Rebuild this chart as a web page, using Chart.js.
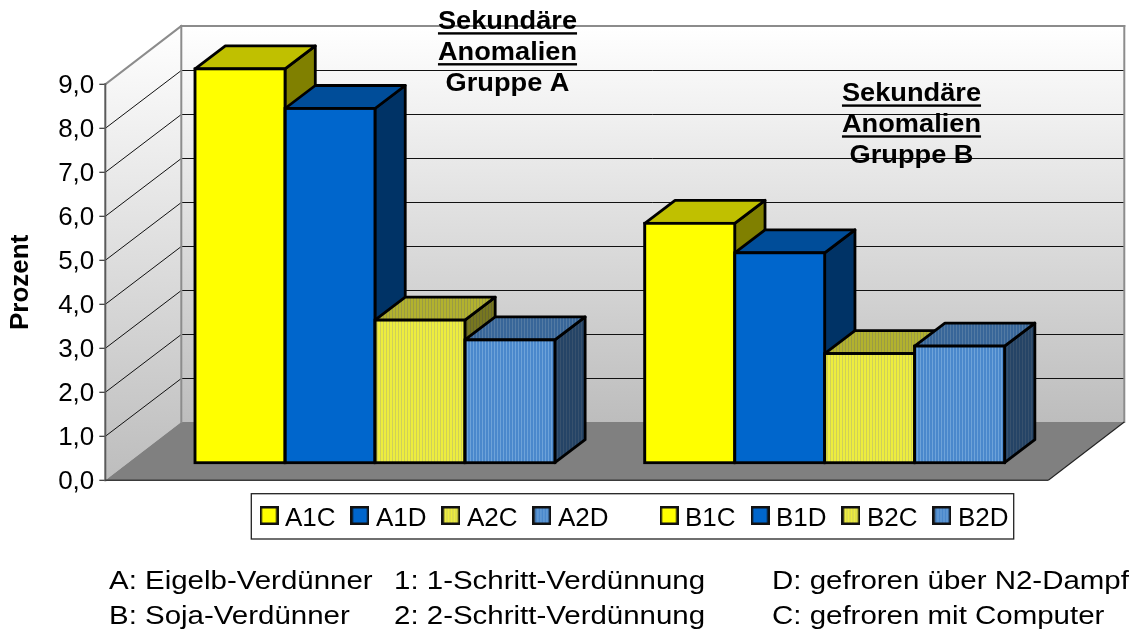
<!DOCTYPE html>
<html>
<head>
<meta charset="utf-8">
<style>
html,body{margin:0;padding:0;background:#fff;overflow:hidden;width:1133px;height:633px}
#c{display:block}
</style>
<script src="https://cdn.jsdelivr.net/npm/chart.js@4"></script>
</head>
<body>
<canvas id="c" width="1133" height="633"></canvas>
<script>
// ---- data ----
const categories = ['Sekundäre Anomalien'];
const seriesNames = ['A1C','A1D','A2C','A2D','','B1C','B1D','B2C','B2D'];
const seriesValues = [8.95,8.05,3.24,2.79,null,5.44,4.77,2.48,2.65];
const seriesKinds = ['yellow','blue','hatchYellow','hatchBlue','none','yellow','blue','hatchYellow','hatchBlue'];
const groupTitleA = ['Sekundäre','Anomalien','Gruppe A'];
const groupTitleB = ['Sekundäre','Anomalien','Gruppe B'];
const noteRow1 = ['A: Eigelb-Verdünner','1: 1-Schritt-Verdünnung','D: gefroren über N2-Dampf'];
const noteRow2 = ['B: Soja-Verdünner','2: 2-Schritt-Verdünnung','C: gefroren mit Computer'];
const axisTitle = 'Prozent';

// ---- styling / geometry ----
const NOTE_SX = 1.133, TITLE_SX = 1.088;   // notes and group titles are stretched horizontally
const FONT = '"Liberation Sans", Arial, sans-serif';
const WALL_DX = 76, WALL_DY = -58.3;
const BAR_DX = 30.3, BAR_DY = -23;
const PLANE_DX = 23;
const STROKE = 1.4;

function stripes(a, b) {
  const p = document.createElement('canvas');
  p.width = 3; p.height = 3;
  const g = p.getContext('2d');
  g.fillStyle = a; g.fillRect(0,0,3,3);
  g.fillStyle = b; g.fillRect(2,0,1,3);
  return g.createPattern(p,'repeat');
}
const palette = {
  yellow:      {front:'#ffff00', top:'#c0c000', side:'#808000'},
  blue:        {front:'#0066cc', top:'#004d99', side:'#003366'},
  hatchYellow: {front:stripes('#eded3e','#cfcf5a'), top:stripes('#b2b22e','#9b9b44'), side:stripes('#77771f','#68682d')},
  hatchBlue:   {front:stripes('#4a88cc','#6ea3d9'), top:stripes('#386699','#537aa3'), side:stripes('#254466','#37516d')},
  none:        {front:'transparent', top:'transparent', side:'transparent'}
};

function swatch(kind){
  const c = document.createElement('canvas');
  c.width = 19; c.height = 25;
  const g = c.getContext('2d');
  g.fillStyle = '#111'; g.fillRect(0,0,19,19);
  g.fillStyle = palette[kind].front; g.fillRect(2.5,2.5,14,14);
  return c;
}

function poly(ctx, pts, fill, stroke, lw){
  ctx.beginPath();
  pts.forEach((p,i)=> i ? ctx.lineTo(p[0],p[1]) : ctx.moveTo(p[0],p[1]));
  ctx.closePath();
  if (fill){ ctx.fillStyle = fill; ctx.fill(); }
  if (stroke){ ctx.strokeStyle = stroke; ctx.lineWidth = lw; ctx.lineJoin='round'; ctx.stroke(); }
}
function line(ctx,x1,y1,x2,y2,c,w){
  ctx.beginPath(); ctx.moveTo(x1,y1); ctx.lineTo(x2,y2);
  ctx.strokeStyle=c; ctx.lineWidth=w; ctx.stroke();
}
function barBox(chart,i){
  const p = chart.getDatasetMeta(i).data[0].getProps(['x','y','base','width'],true);
  return {l:p.x-p.width/2, r:p.x+p.width/2, t:p.y, b:p.base};
}

const scene = {
  id:'scene',
  beforeUpdate(chart){
    chart.legend.isHorizontal = () => true;
  },
  afterLayout(chart){
    const l = chart.legend;
    l.left = 244.6; l.right = 1133; l.top = 484.1; l.bottom = 560;
  },
  beforeDraw(chart){
    const ctx = chart.ctx, y = chart.scales.y;
    const x0 = chart.chartArea.left - PLANE_DX, x1 = chart.chartArea.right - PLANE_DX;
    const b = y.getPixelForValue(y.min), t = y.getPixelForValue(y.max);
    ctx.save();
    ctx.fillStyle='#fff'; ctx.fillRect(0,0,chart.width,chart.height);
    // back wall
    let g = ctx.createLinearGradient(0,t+WALL_DY,0,b+WALL_DY);
    g.addColorStop(0,'#ffffff'); g.addColorStop(1,'#bdbdbd');
    poly(ctx,[[x0+WALL_DX,t+WALL_DY],[x1+WALL_DX,t+WALL_DY],[x1+WALL_DX,b+WALL_DY],[x0+WALL_DX,b+WALL_DY]],g);
    // side wall
    g = ctx.createLinearGradient(0,t+WALL_DY,0,b);
    g.addColorStop(0,'#ffffff'); g.addColorStop(1,'#bdbdbd');
    poly(ctx,[[x0,b],[x0+WALL_DX,b+WALL_DY],[x0+WALL_DX,t+WALL_DY],[x0,t]],g);
    // floor
    poly(ctx,[[x0,b],[x0+WALL_DX,b+WALL_DY],[x1+WALL_DX,b+WALL_DY],[x1,b]],'#808080');
    // grid
    y.ticks.forEach(tk=>{
      const p = y.getPixelForValue(tk.value);
      if (tk.value>y.min && tk.value<y.max){
        const back = Math.floor(p+WALL_DY)+0.5;
        line(ctx,x0,p,x0+WALL_DX,back,'#111',1);
        line(ctx,x0+WALL_DX,back,x1+WALL_DX,back,'#111',1);
      }
      line(ctx,x0-6,p,x0,p,'#333',1.2);
    });
    // wall edges
    ctx.lineCap='square';
    line(ctx,x0+WALL_DX,t+WALL_DY,x1+WALL_DX,t+WALL_DY,'#8c8c8c',2);
    line(ctx,x0+WALL_DX,t+WALL_DY,x0+WALL_DX,b+WALL_DY,'#8c8c8c',2);
    line(ctx,x1+WALL_DX,t+WALL_DY,x1+WALL_DX,b+WALL_DY,'#8c8c8c',2);
    line(ctx,x0,t,x0+WALL_DX,t+WALL_DY,'#8c8c8c',2);
    line(ctx,x0,t,x0,b,'#5a5a5a',2);
    ctx.lineCap='butt';
    line(ctx,x0,b,x1,b,'#3a3a3a',1.4);
    line(ctx,x1,b,x1+WALL_DX,b+WALL_DY,'#222',1.1);
    // legend frame
    ctx.strokeStyle='#222'; ctx.lineWidth=1.3;
    ctx.strokeRect(251.3,493.7,762.4,45.3);
    ctx.restore();
  },
  beforeDatasetsDraw(chart){
    const ctx = chart.ctx;
    ctx.save();
    chart.data.datasets.forEach((ds,i)=>{
      if (ds.data[0]===null) return;
      const q = barBox(chart,i), k = palette[ds.kind];
      poly(ctx,[[q.r,q.t],[q.r+BAR_DX,q.t+BAR_DY],[q.r+BAR_DX,q.b+BAR_DY],[q.r,q.b]],k.side,'#000',STROKE*2);
      poly(ctx,[[q.l,q.t],[q.l+BAR_DX,q.t+BAR_DY],[q.r+BAR_DX,q.t+BAR_DY],[q.r,q.t]],k.top,'#000',STROKE*2);
    });
    ctx.restore();
  },
  afterDatasetsDraw(chart){
    const ctx = chart.ctx;
    ctx.save();
    ctx.strokeStyle='#000'; ctx.lineWidth=STROKE*2; ctx.lineJoin='miter';
    chart.data.datasets.forEach((ds,i)=>{
      if (ds.data[0]===null) return;
      const q = barBox(chart,i);
      ctx.strokeRect(q.l,q.t,q.r-q.l,q.b-q.t);
    });
    ctx.restore();
  },
  afterDraw(chart){
    const ctx = chart.ctx;
    // group titles
    ctx.save();
    ctx.scale(TITLE_SX,1);
    ctx.fillStyle='#000';
    ctx.textBaseline='alphabetic';
    ctx.font='bold 25px '+FONT; ctx.textAlign='center';
    const title=(lines,cx,y0)=>{
      lines.forEach((s,i)=>{
        const y=y0+i*30.9;
        ctx.fillText(s,cx,y);
        if(i<2){ const w=ctx.measureText('Sekundäre').width; ctx.fillRect(cx-w/2,y+3.4,w,2.4); }
      });
    };
    title(groupTitleA,507.5/TITLE_SX,28.8);
    title(groupTitleB,911.5/TITLE_SX,101);
    ctx.restore();
    // notes
    ctx.save();
    ctx.scale(NOTE_SX,1);
    ctx.fillStyle='#000';
    ctx.textBaseline='alphabetic';
    ctx.font='26px '+FONT; ctx.textAlign='left';
    const noteX=[109/NOTE_SX,394/NOTE_SX,772/NOTE_SX];
    noteRow1.forEach((s,i)=>ctx.fillText(s,noteX[i],589));
    noteRow2.forEach((s,i)=>ctx.fillText(s,noteX[i],624));
    ctx.restore();
  }
};

const datasets = seriesNames.map((n,i)=>({
  label:n, kind:seriesKinds[i], data:[seriesValues[i]],
  backgroundColor:palette[seriesKinds[i]].front,
  borderColor:'#000', borderWidth:STROKE, inflateAmount:STROKE,
  borderSkipped:false, yAxisID:'yBar', clip:false,
  categoryPercentage:809.5/943, barPercentage:1
}));

new Chart(document.getElementById('c'),{
  type:'bar',
  data:{labels:categories,datasets},
  plugins:[scene],
  options:{
    responsive:false, animation:false, devicePixelRatio:1,
    layout:{padding:{top:84.3,bottom:633-480.3,left:0,right:1133-1071.3}},
    plugins:{
      tooltip:{enabled:false},
      legend:{
        position:'chartArea', align:'start',
        labels:{
          usePointStyle:true, pointStyleWidth:6, boxHeight:19,
          font:{family:FONT,size:26}, color:'#000', padding:21.4,
          generateLabels(chart){
            return chart.data.datasets.filter(d=>d.label).map((d)=>({
              text:d.label==='A2D'?d.label+'     ':d.label,
              pointStyle:swatch(d.kind),
              datasetIndex:chart.data.datasets.indexOf(d),
              hidden:false, fontColor:'#000', lineWidth:0
            }));
          }
        }
      }
    },
    scales:{
      x:{display:false,grid:{display:false}},
      y:{
        position:'left',min:0,max:9,
        afterFit(s){s.width=128.3;},
        grid:{display:false,drawTicks:false},border:{display:false},
        ticks:{stepSize:1,padding:34,labelOffset:2,color:'#000',font:{family:FONT,size:26},
          callback:v=>v.toFixed(1).replace('.',',')},
        title:{display:true,text:axisTitle,color:'#000',font:{family:FONT,size:26,weight:'bold'},padding:{top:5.4,bottom:0}}
      },
      yBar:{display:false,position:'left',min:-0.4,max:8.6,grid:{display:false}}
    }
  }
});
</script>
</body>
</html>
